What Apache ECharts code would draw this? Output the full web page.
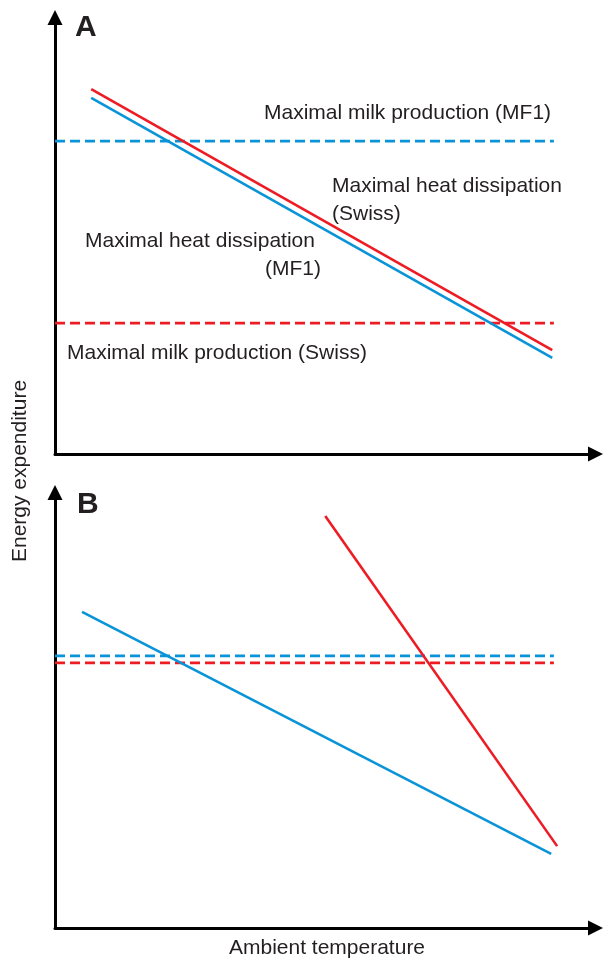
<!DOCTYPE html>
<html>
<head>
<meta charset="utf-8">
<script src="https://cdn.jsdelivr.net/npm/echarts@6/dist/echarts.min.js"></script>
<style>
html,body{margin:0;padding:0;background:#fff;}
#c{width:605px;height:960px;}
</style>
</head>
<body>
<div id="c"></div>
<script>
// Panel A (arbitrary units: x = ambient temperature, y = energy expenditure)
const heatSwissA = [[6.7, 83.6], [92.0, 23.8]];
const heatMF1A   = [[6.7, 81.6], [92.0, 22.0]];
const milkMF1A   = [[0, 71.7], [92.3, 71.7]];
const milkSwissA = [[0, 30.0], [92.3, 30.0]];
// Panel B
const heatMF1B   = [[5.0, 72.6], [91.8, 17.0]];
const heatSwissB = [[50.0, 94.6], [92.9, 18.8]];
const milkMF1B   = [[0, 62.5], [92.3, 62.5]];
const milkSwissB = [[0, 60.9], [92.3, 60.9]];

const panelLabels = ['A', 'B'];
const annotations = [
  'Maximal milk production (MF1)',
  'Maximal heat dissipation',
  '(Swiss)',
  'Maximal heat dissipation',
  '(MF1)',
  'Maximal milk production (Swiss)'
];
const yTitle = 'Energy expenditure';
const xTitle = 'Ambient temperature';

const RED = '#ed1c24', BLUE = '#0a94d8', TXT = '#231f20';
const FONT = 'Liberation Sans, Arial, Helvetica, sans-serif';

function axis(type, gi) {
  return {
    type: 'value', gridIndex: gi, min: 0, max: 100,
    axisLine: {show: true, onZero: false, lineStyle: {color: '#000', width: 3},
      symbol: ['none', 'triangle'], symbolSize: [15, 15]},
    axisTick: {show: false}, axisLabel: {show: false}, splitLine: {show: false}
  };
}
function ln(data, color, gi, dashed) {
  return {
    type: 'line', data: data, xAxisIndex: gi, yAxisIndex: gi,
    symbol: 'none', silent: true, animation: false,
    lineStyle: {color: color, width: dashed ? 2.8 : 2.6, type: dashed ? [10, 5] : 'solid', cap: 'butt'}
  };
}
function txt(s, x, y, opts) {
  return Object.assign({
    type: 'text', x: x, y: y,
    style: {text: s, fill: TXT, font: '21px ' + FONT, textVerticalAlign: 'middle', textAlign: 'left'}
  }, opts || {});
}

const chart = echarts.init(document.getElementById('c'), null, {renderer: 'canvas'});
chart.setOption({
  animation: false,
  backgroundColor: '#fff',
  grid: [
    {left: 55, right: 9.5, top: 17.5, height: 436.5},
    {left: 55, right: 9.5, top: 492.5, height: 435.5}
  ],
  xAxis: [axis('x', 0), axis('x', 1)],
  yAxis: [axis('y', 0), axis('y', 1)],
  series: [
    ln(milkMF1A, BLUE, 0, true),
    ln(milkSwissA, RED, 0, true),
    ln(heatMF1A, BLUE, 0, false),
    ln(heatSwissA, RED, 0, false),
    ln(milkMF1B, BLUE, 1, true),
    ln(milkSwissB, RED, 1, true),
    ln(heatMF1B, BLUE, 1, false),
    ln(heatSwissB, RED, 1, false)
  ],
  graphic: [
    {type: 'text', x: 75, y: 28, style: {text: panelLabels[0], fill: TXT, font: 'bold 30px ' + FONT, textVerticalAlign: 'middle'}},
    {type: 'text', x: 77, y: 505, style: {text: panelLabels[1], fill: TXT, font: 'bold 30px ' + FONT, textVerticalAlign: 'middle'}},
    txt(annotations[0], 264, 113),
    txt(annotations[1], 332, 186),
    txt(annotations[2], 332, 214),
    txt(annotations[3], 85, 241),
    txt(annotations[4], 265, 269),
    txt(annotations[5], 67, 353),
    {type: 'text', x: 20, y: 471, rotation: Math.PI / 2,
      style: {text: yTitle, fill: TXT, font: '21px ' + FONT, textAlign: 'center', textVerticalAlign: 'middle'}},
    {type: 'text', x: 327, y: 948,
      style: {text: xTitle, fill: TXT, font: '21px ' + FONT, textAlign: 'center', textVerticalAlign: 'middle'}}
  ]
});
</script>
</body>
</html>
